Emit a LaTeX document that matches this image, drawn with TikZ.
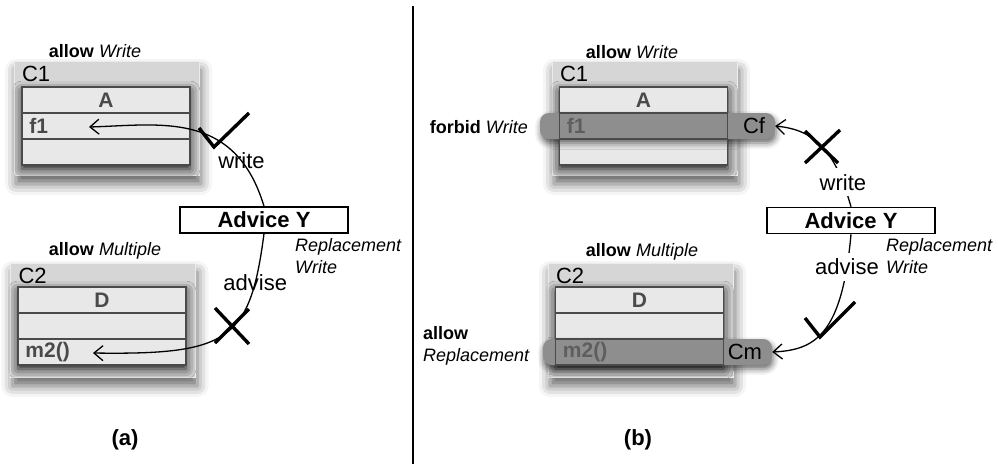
\documentclass[tikz,border=0pt]{standalone}
\usepackage{fontspec}
\setmainfont{Liberation Sans}
\usetikzlibrary{positioning,arrows.meta,shadows.blur}

\definecolor{pkgfill}{HTML}{D6D6D6}
\definecolor{rowfill}{HTML}{E8E8E8}
\definecolor{bandfill}{HTML}{8E8E8E}
\definecolor{ink}{HTML}{4A4A4A}
\definecolor{fadedink}{HTML}{5E5E5E}

\tikzset{
  note/.style={font=\fontsize{18}{22}\selectfont, align=left, inner sep=0pt},
  lbl/.style={font=\fontsize{22}{26}\selectfont},
  pkg/.style={fill=pkgfill, draw=black!8, minimum width=185pt, minimum height=114pt,
    blur shadow={shadow xshift=2pt, shadow yshift=-9pt, shadow blur radius=11pt, shadow opacity=60}},
  body/.style={fill=rowfill, minimum width=168pt, minimum height=78pt,
    blur shadow={shadow xshift=0pt, shadow yshift=-4pt, shadow blur radius=10pt, shadow opacity=90}},
  comp/.style={draw=ink, line width=1.5pt, minimum width=168pt, minimum height=26pt, inner sep=0pt,
    text=ink, font=\fontsize{21}{25}\selectfont\bfseries},
  member/.style={anchor=west, xshift=8pt, inner sep=0pt, text=ink, font=\fontsize{21}{25}\selectfont\bfseries},
  band/.style={fill=bandfill, rounded corners=9pt, minimum height=26pt, inner sep=0pt,
    blur shadow={shadow xshift=1pt, shadow yshift=-4pt, shadow blur radius=6pt, shadow opacity=60}},
  advice/.style={draw, line width=1.5pt, fill=white, minimum width=168pt, minimum height=26pt, inner sep=0pt,
    font=\fontsize{22}{26}\selectfont\bfseries},
  conn/.style={line width=1.3pt, -{Straight Barb[length=9pt,width=15pt]}},
  tick/.style={line width=3.4pt},
}

\begin{document}
\begin{tikzpicture}[x=1pt,y=-1pt,node distance=26pt,on grid]
  \useasboundingbox (0,0) rectangle (998,464);

  % (a)
  \node[note] (alwa) at (95,51) {\textbf{allow} \textit{Write}};
  \node[pkg] (C1a) at (106.5,118) {};
  \node[lbl,anchor=west,inner sep=0pt] (c1a) at ([xshift=8pt,yshift=-13.5pt]C1a.north west) {C1};
  \node[body] (bodya) at (106,126) {};
  \node[comp] (Aa) at (106,100) {A};
  \node[comp,below of=Aa] (fa) {};
  \node[comp,below of=fa] (xa) {};
  \node[member] (f1a) at (fa.west) {f1};
  \coordinate (fa-in) at (89,127);

  \node[note] (alma) at (105,251) {\textbf{allow} \textit{Multiple}};
  \node[pkg] (C2a) at (103,320) {};
  \node[lbl,anchor=west,inner sep=0pt] (c2a) at ([xshift=8pt,yshift=-13.5pt]C2a.north west) {C2};
  \node[body] (bodyDa) at (102,326) {};
  \node[comp] (Da) at (102,300) {D};
  \node[comp,below of=Da] (ya) {};
  \node[comp,below of=ya] (ma) {};
  \node[member] (m2a) at (ma.west) {m2()};
  \coordinate (ma-in) at (93,353);

  \node[advice] (AYa) at (264,220) {Advice Y};
  \node[note,anchor=north west] (repa) at (295,238.5) {\textit{Replacement}\\\textit{Write}};

  \draw[conn] (AYa.north) .. controls (235,110) and (160,125) .. (fa-in) node[lbl,pos=.2] {write};
  \draw[conn] (AYa.south) .. controls (250,340) and (230,355) .. (ma-in) node[lbl,pos=.18] {advise};
  \draw[tick] (199,128) -- (214,147) -- (249,113);
  \draw[tick] (215,308) -- (249,344) (249,309) -- (215,343);

  \node[lbl] (capa) at (125,440) {\textbf{(a)}};

  \draw[line width=1.2pt] (413,6) -- (413,464);

  % (b)
  \node[note] (alwb) at (632,52) {\textbf{allow} \textit{Write}};
  \node[pkg] (C1b) at (644.5,118) {};
  \node[lbl,anchor=west,inner sep=0pt] (c1b) at ([xshift=8pt,yshift=-13.5pt]C1b.north west) {C1};
  \node[body] (bodyb) at (643.5,126) {};
  \node[band,minimum width=235pt] (bf) at (657.5,126) {};
  \node[comp] (Ab) at (643.5,100) {A};
  \node[comp,below of=Ab] (fb) {};
  \node[comp,below of=fb] (xb) {};
  \node[member,text=fadedink] (f1b) at (fb.west) {f1};
  \node[lbl,anchor=east,inner sep=0pt] (cf) at ([xshift=-10pt]bf.east) {Cf};
  \node[note,anchor=east] (forb) at (528,127) {\textbf{forbid} \textit{Write}};

  \node[note] (almb) at (642,252) {\textbf{allow} \textit{Multiple}};
  \node[pkg] (C2b) at (640.5,320) {};
  \node[lbl,anchor=west,inner sep=0pt] (c2b) at ([xshift=8pt,yshift=-13.5pt]C2b.north west) {C2};
  \node[body] (bodyDb) at (639.5,326) {};
  \node[band,minimum width=229pt] (bm) at (657.5,352) {};
  \node[comp] (Db) at (639.5,300) {D};
  \node[comp,below of=Db] (yb) {};
  \node[comp,below of=yb] (mb) {};
  \node[member,text=fadedink] (m2b) at (mb.west) {m2()};
  \node[lbl,anchor=east,inner sep=0pt] (cm) at ([xshift=-10pt]bm.east) {Cm};
  \node[note,anchor=north west] (allr) at (423,326.5) {\textbf{allow}\\\textit{Replacement}};

  \node[advice] (AYb) at (851,220.5) {Advice Y};
  \node[note,anchor=north west] (repb) at (886,238.5) {\textit{Replacement}\\\textit{Write}};

  \draw[conn] (AYb.north) .. controls (835,150) and (815,130) .. (bf.east)
    node[lbl,pos=.16,fill=white,inner xsep=1pt,inner ysep=6pt] {write};
  \draw[conn] (AYb.south) .. controls (842,335) and (815,350) .. (bm.east)
    node[lbl,pos=.12,fill=white,inner xsep=1pt,inner ysep=6pt] {advise};
  \draw[tick] (805,318) -- (820,337) -- (855,302);
  \draw[tick] (805,131) -- (838,163) (840,130) -- (805,163);

  \node[lbl] (capb) at (638,440) {\textbf{(b)}};
\end{tikzpicture}
\end{document}
